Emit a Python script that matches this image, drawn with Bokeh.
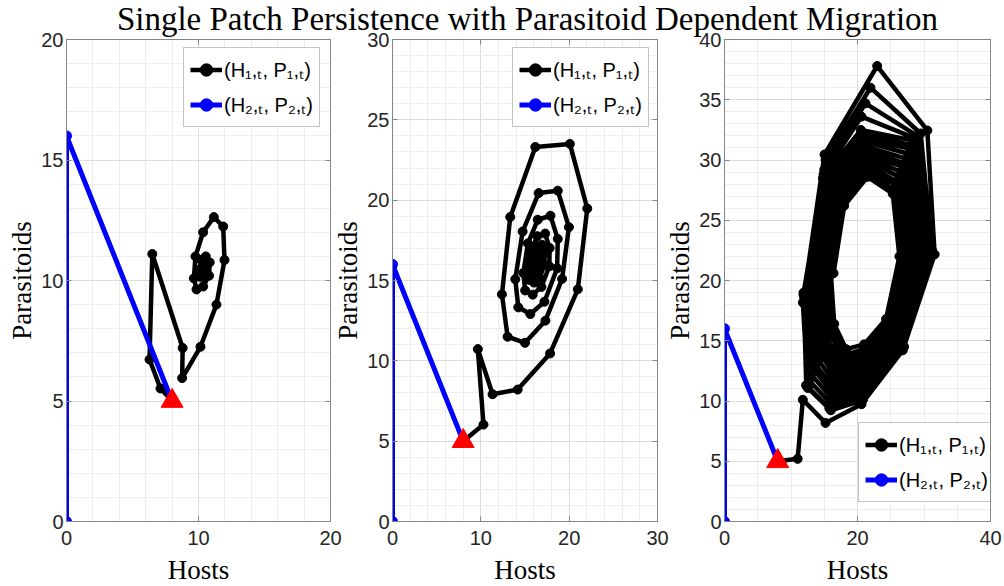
from bokeh.plotting import figure
from bokeh.models import (Range1d, SingleIntervalTicker, LinearAxis, Legend, LegendItem,
                          CustomJSTickFormatter)
from bokeh.layouts import row, column
from bokeh.embed import file_html
from bokeh.resources import INLINE

TITLE = "Single Patch Persistence with Parasitoid Dependent Migration"
X_LABEL = "Hosts"
Y_LABEL = "Parasitoids"
LEGEND_PATCH1 = "(H\u2081,\u209c, P\u2081,\u209c)"
LEGEND_PATCH2 = "(H\u2082,\u209c, P\u2082,\u209c)"

# initial condition (red triangle)
H_START = [8.0]
P_START = [5.0]

# patch 2 trajectory (same in all panels)
H2 = [8.0, 0.0, 0.0]
P2 = [5.0, 16.0, 0.0]

# panel 1, patch 1
H1_A = [8.0, 7.12, 6.29, 6.5, 8.8, 8.76, 10.15, 11.36, 11.97, 11.87, 11.16, 10.35, 9.77,
        9.65, 9.85, 10.35, 10.8, 10.85, 10.55, 10.2, 10.05, 10.15, 10.4, 10.55, 10.5,
        10.35, 10.25, 10.3, 10.4]
P1_A = [5.0, 5.52, 6.72, 11.1, 7.2, 5.95, 7.25, 9.0, 10.85, 12.24, 12.63, 12.0, 11.0,
        10.09, 9.63, 9.75, 10.2, 10.75, 11.0, 10.85, 10.45, 10.15, 10.15, 10.35, 10.55,
        10.6, 10.45, 10.35, 10.4]

# panel 2, patch 1
H1_B = [8.0, 10.3, 9.66, 11.33, 14.17, 17.84, 20.98, 22.05, 20.08, 16.17, 13.33, 12.39,
        13.03, 15.0, 17.31, 19.2, 19.97, 18.71, 16.55, 14.73, 13.9, 14.24, 15.6, 17.2,
        18.64, 18.71, 17.88, 16.44,
        15.33, 14.81, 15.02, 15.87, 16.86, 17.75, 17.79, 17.28, 16.39,
        15.7, 15.38, 15.51, 16.03, 16.65, 17.2, 17.22, 16.91, 16.36,
        15.93, 15.73, 15.81, 16.13, 16.52, 16.86, 16.87, 16.68, 16.34,
        16.07, 15.95, 16.0, 16.2, 16.44, 16.65, 16.65, 16.54, 16.32]
P1_B = [5.0, 6.03, 10.73, 7.92, 8.21, 10.46, 14.45, 19.48, 23.5, 23.31, 18.95, 14.14,
        11.5, 11.12, 12.5, 15.1, 18.32, 20.59, 20.44, 18.05, 15.08, 13.33, 12.91, 13.68,
        15.76, 17.59, 19.03, 18.78,
        17.31, 15.47, 14.38, 14.12, 14.6, 15.89, 17.02, 17.92, 17.76,
        16.85, 15.71, 15.03, 14.87, 15.17, 15.97, 16.67, 17.23, 17.13,
        16.57, 15.86, 15.44, 15.34, 15.52, 16.02, 16.45, 16.8, 16.74,
        16.39, 15.95, 15.69, 15.63, 15.74, 16.05, 16.32, 16.53, 16.49]

# panel 3, patch 1 (slowly decaying oscillation)
H1_C = [8.0, 11.0, 11.78, 15.19, 20.6, 26.8, 31.6, 30.5, 22.96, 15.04, 11.78,
        12.53, 16.0, 20.7, 27.0, 31.2, 29.5, 21.95, 15.2, 12.0,
        12.4, 15.9, 20.8, 26.9, 31.1, 29.0, 21.2, 15.0, 11.9,
        12.3, 15.8, 20.8, 26.8, 31.0, 28.7, 20.6, 14.9, 11.9,
        12.3, 15.8, 20.8, 26.8, 31.0, 28.5, 20.5, 14.8, 11.9,
        12.7, 16.0, 20.8, 26.6, 30.6, 28.2, 20.6, 15.1, 12.3,
        13.0, 16.2, 20.8, 26.4, 30.2, 28.0, 20.7, 15.3, 12.6,
        13.4, 16.4, 20.9, 26.2, 29.8, 27.7, 20.8, 15.6, 13.0,
        13.7, 16.6, 20.9, 26.0, 29.4, 27.4, 20.9, 15.9, 13.4,
        14.1, 16.8, 20.9, 25.8, 29.0, 27.1, 21.0, 16.2, 13.8,
        14.4, 17.0, 20.9, 25.5, 28.6, 26.9, 21.0, 16.4, 14.1,
        14.8, 17.2, 20.9, 25.3, 28.2, 26.6, 21.1, 16.7, 14.5,
        15.1, 17.4, 21.0, 25.1, 27.8, 26.3, 21.2, 17.0, 14.9,
        15.5, 17.6, 21.0, 24.9, 27.4, 26.0, 21.3, 17.3, 15.3,
        15.9, 17.8, 21.0, 24.7, 27.0, 25.8, 21.4, 17.5, 15.6,
        16.2, 18.0, 21.0, 24.5, 26.6, 25.5, 21.5, 17.8, 16.0,
        16.5, 18.3, 21.0, 24.3, 26.3, 25.3, 21.5, 18.0, 16.4]
P1_C = [5.0, 5.2, 10.1, 8.18, 9.73, 14.2, 22.16, 32.45, 37.8, 30.46, 18.16,
        11.08, 9.23, 10.06, 14.5, 22.5, 32.2, 36.0, 30.0, 18.5,
        11.2, 9.3, 10.1, 14.5, 22.5, 32.0, 34.7, 29.2, 18.8,
        11.3, 9.4, 10.2, 14.6, 22.5, 31.8, 33.6, 28.8, 18.9,
        11.3, 9.4, 10.2, 14.6, 22.5, 31.6, 32.5, 28.5, 19.0,
        11.7, 9.8, 10.6, 14.8, 22.5, 31.2, 32.2, 28.3, 19.1,
        12.2, 10.2, 10.9, 14.9, 22.4, 30.9, 31.9, 28.1, 19.3,
        12.6, 10.6, 11.3, 15.1, 22.4, 30.5, 31.6, 28.0, 19.4,
        13.0, 11.0, 11.7, 15.3, 22.3, 30.1, 31.2, 27.8, 19.5,
        13.4, 11.4, 12.1, 15.5, 22.3, 29.7, 30.9, 27.6, 19.7,
        13.9, 11.8, 12.4, 15.6, 22.2, 29.4, 30.6, 27.4, 19.8,
        14.3, 12.2, 12.8, 15.8, 22.2, 29.0, 30.3, 27.2, 20.0,
        14.7, 12.6, 13.2, 16.0, 22.1, 28.6, 30.0, 27.0, 20.1,
        15.1, 13.0, 13.6, 16.2, 22.1, 28.2, 29.6, 26.9, 20.2,
        15.6, 13.4, 13.9, 16.3, 22.0, 27.9, 29.3, 26.7, 20.4,
        16.0, 13.8, 14.3, 16.5, 22.0, 27.5, 29.0, 26.5, 20.5,
        16.4, 14.3, 14.7, 16.8, 22.0, 27.2, 28.6, 26.2, 20.6]

AX_GRAY = "#858585"
TICK_TEXT = "#262626"
SERIF = "Liberation Serif"
SANS = "Liberation Sans"


def make_panel(h1, p1, xmax, ymax, xstep, xminor, frame_w, left_b, right_b, margin, leg_loc):
    p = figure(frame_width=frame_w, frame_height=482,
               x_range=Range1d(0, xmax), y_range=Range1d(0, ymax),
               output_backend="svg", toolbar_location=None,
               min_border_left=left_b, min_border_right=right_b,
               min_border_top=12, min_border_bottom=64)
    p.margin = margin
    p.border_fill_alpha = 0
    p.background_fill_color = "white"
    p.outline_line_color = AX_GRAY
    p.outline_line_width = 1

    xt = SingleIntervalTicker(interval=xstep, num_minor_ticks=xminor)
    yt = SingleIntervalTicker(interval=5, num_minor_ticks=5)

    top = LinearAxis(ticker=xt, formatter=CustomJSTickFormatter(code="return ''"))
    right = LinearAxis(ticker=yt, formatter=CustomJSTickFormatter(code="return ''"))
    p.add_layout(top, "above")
    p.add_layout(right, "right")

    p.xaxis.ticker = xt
    p.yaxis.ticker = yt
    p.xgrid.ticker = xt
    p.ygrid.ticker = yt

    for ax in p.xaxis + p.yaxis:
        ax.axis_line_color = AX_GRAY
        ax.major_tick_line_color = AX_GRAY
        ax.major_tick_in = 5
        ax.major_tick_out = 0
        ax.minor_tick_in = 0
        ax.minor_tick_out = 0
        ax.major_label_text_font = SANS
        ax.major_label_text_font_size = "20px"
        ax.major_label_text_color = TICK_TEXT
        ax.axis_label_text_font = SERIF
        ax.axis_label_text_font_size = "27px"
        ax.axis_label_text_font_style = "normal"
        ax.axis_label_text_color = "black"
    top.major_label_standoff = 0
    right.major_label_standoff = 0

    bottom = p.below[0]
    left = p.left[0]
    bottom.axis_label = X_LABEL
    left.axis_label = Y_LABEL
    bottom.major_label_standoff = 9
    bottom.axis_label_standoff = 7
    left.major_label_standoff = 3
    left.axis_label_standoff = 1

    for g in (p.xgrid, p.ygrid):
        g.grid_line_color = "#dcdcdc"
        g.grid_line_width = 1
        g.minor_grid_line_color = "#ededed"
        g.minor_grid_line_width = 1

    l1 = p.line(h1, p1, line_color="black", line_width=4.5, line_join="round")
    s1 = p.scatter(h1, p1, size=9, fill_color="black", line_color="black")
    l2 = p.line(H2, P2, line_color="#0000ff", line_width=5, line_join="round")
    s2 = p.scatter(H2, P2, size=10, fill_color="#0000ff", line_color="#0000ff")
    p.scatter(H_START, P_START, marker="triangle", size=22, fill_color="#ff0000",
              line_color="#ff0000")

    leg = Legend(items=[LegendItem(label=LEGEND_PATCH1, renderers=[l1, s1]),
                        LegendItem(label=LEGEND_PATCH2, renderers=[l2, s2])],
                 location=leg_loc)
    leg.border_line_color = "#8c8c8c"
    leg.border_line_width = 1
    leg.background_fill_color = "white"
    leg.background_fill_alpha = 1
    leg.label_text_font = SANS
    leg.label_text_font_size = "20px"
    leg.label_text_color = "black"
    leg.glyph_width = 32
    leg.glyph_height = 31
    leg.label_height = 31
    leg.label_standoff = 2
    leg.padding = 6
    leg.spacing = 4
    leg.margin = 0
    p.add_layout(leg)
    return p


f1 = make_panel(H1_A, P1_A, 20, 20, 10, 5, 264, 66, 20, (0, 0, -8, 0), (117, 394))
f2 = make_panel(H1_B, P1_B, 30, 30, 10, 5, 265, 62, 20, (0, 0, -8, -20), (120, 394))
f3 = make_panel(H1_C, P1_C, 40, 40, 20, 4, 266, 67, 12, (0, 0, -8, -20), (134, 19))

tf = figure(width=1000, height=50, output_backend="svg", toolbar_location=None,
            x_axis_type=None, y_axis_type=None, min_border=0, min_border_left=54,
            title=TITLE)
tf.margin = (-2, 0, -21, 0)
tf.outline_line_color = None
tf.border_fill_alpha = 0
tf.background_fill_alpha = 0
tf.grid.visible = False
tf.title.text_font = SERIF
tf.title.text_font_size = "33px"
tf.title.text_font_style = "normal"
tf.title.text_color = "black"
tf.title.align = "center"
tf.title.standoff = 0

layout = column(tf, row(f1, f2, f3))
open("out.html", "w").write(file_html(layout, INLINE))
